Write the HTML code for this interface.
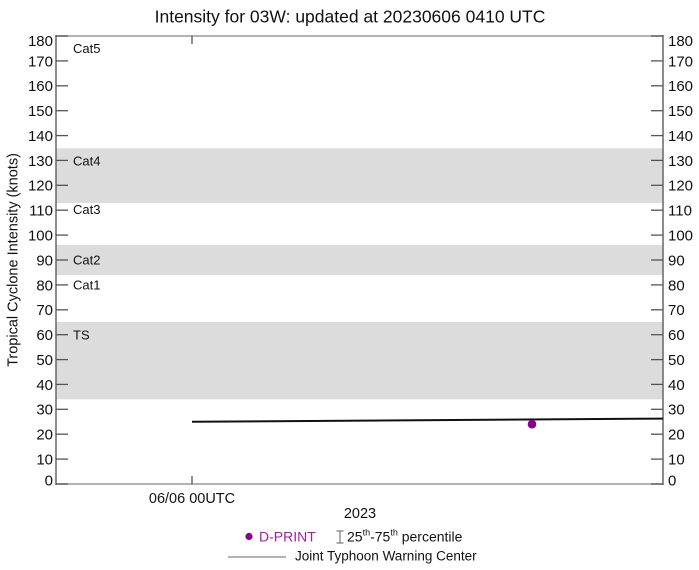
<!DOCTYPE html>
<html><head><meta charset="utf-8"><style>
html,body{margin:0;padding:0;background:#fff;}
svg{display:block;font-family:"Liberation Sans",Arial,sans-serif;}
</style></head><body>
<svg width="699" height="570" viewBox="0 0 699 570" xmlns="http://www.w3.org/2000/svg">
<rect width="699" height="570" fill="#fff"/>
<text x="350" y="22.5" font-size="17.5" text-anchor="middle" fill="#111">Intensity for 03W: updated at 20230606 0410 UTC</text>
<!-- bands -->
<rect x="56" y="148.3" width="607" height="54.7" fill="#dcdcdc"/>
<rect x="56" y="245" width="607" height="30" fill="#dcdcdc"/>
<rect x="56" y="322" width="607" height="77.3" fill="#dcdcdc"/>
<!-- frame -->
<line x1="56" y1="36" x2="663" y2="36" stroke="#999" stroke-width="1.5"/>
<line x1="56" y1="484" x2="663" y2="484" stroke="#999" stroke-width="1.5"/>
<line x1="56" y1="35" x2="56" y2="485" stroke="#666" stroke-width="1.5"/>
<line x1="663" y1="35" x2="663" y2="485" stroke="#666" stroke-width="1.5"/>
<!-- ticks -->
<g stroke="#555" stroke-width="1.3">
<line x1="56" y1="36" x2="68" y2="36"/><line x1="651" y1="36" x2="663" y2="36"/>
<line x1="56" y1="60.9" x2="68" y2="60.9"/><line x1="651" y1="60.9" x2="663" y2="60.9"/>
<line x1="56" y1="85.8" x2="68" y2="85.8"/><line x1="651" y1="85.8" x2="663" y2="85.8"/>
<line x1="56" y1="110.7" x2="68" y2="110.7"/><line x1="651" y1="110.7" x2="663" y2="110.7"/>
<line x1="56" y1="135.6" x2="68" y2="135.6"/><line x1="651" y1="135.6" x2="663" y2="135.6"/>
<line x1="56" y1="160.4" x2="68" y2="160.4"/><line x1="651" y1="160.4" x2="663" y2="160.4"/>
<line x1="56" y1="185.3" x2="68" y2="185.3"/><line x1="651" y1="185.3" x2="663" y2="185.3"/>
<line x1="56" y1="210.2" x2="68" y2="210.2"/><line x1="651" y1="210.2" x2="663" y2="210.2"/>
<line x1="56" y1="235.1" x2="68" y2="235.1"/><line x1="651" y1="235.1" x2="663" y2="235.1"/>
<line x1="56" y1="260" x2="68" y2="260"/><line x1="651" y1="260" x2="663" y2="260"/>
<line x1="56" y1="284.9" x2="68" y2="284.9"/><line x1="651" y1="284.9" x2="663" y2="284.9"/>
<line x1="56" y1="309.8" x2="68" y2="309.8"/><line x1="651" y1="309.8" x2="663" y2="309.8"/>
<line x1="56" y1="334.7" x2="68" y2="334.7"/><line x1="651" y1="334.7" x2="663" y2="334.7"/>
<line x1="56" y1="359.6" x2="68" y2="359.6"/><line x1="651" y1="359.6" x2="663" y2="359.6"/>
<line x1="56" y1="384.4" x2="68" y2="384.4"/><line x1="651" y1="384.4" x2="663" y2="384.4"/>
<line x1="56" y1="409.3" x2="68" y2="409.3"/><line x1="651" y1="409.3" x2="663" y2="409.3"/>
<line x1="56" y1="434.2" x2="68" y2="434.2"/><line x1="651" y1="434.2" x2="663" y2="434.2"/>
<line x1="56" y1="459.1" x2="68" y2="459.1"/><line x1="651" y1="459.1" x2="663" y2="459.1"/>
<line x1="56" y1="484" x2="68" y2="484"/><line x1="651" y1="484" x2="663" y2="484"/>
<line x1="192" y1="36" x2="192" y2="44"/><line x1="192" y1="476" x2="192" y2="484"/>
</g>
<!-- left labels -->
<g font-size="15" fill="#111" text-anchor="end">
<text x="53" y="46">180</text>
<text x="53" y="66.3">170</text>
<text x="53" y="91.2">160</text>
<text x="53" y="116.1">150</text>
<text x="53" y="141">140</text>
<text x="53" y="165.8">130</text>
<text x="53" y="190.7">120</text>
<text x="53" y="215.6">110</text>
<text x="53" y="240.5">100</text>
<text x="53" y="265.4">90</text>
<text x="53" y="290.3">80</text>
<text x="53" y="315.2">70</text>
<text x="53" y="340.1">60</text>
<text x="53" y="365">50</text>
<text x="53" y="389.8">40</text>
<text x="53" y="414.7">30</text>
<text x="53" y="439.6">20</text>
<text x="53" y="464.5">10</text>
<text x="53" y="485.5">0</text>
</g>
<g font-size="15" fill="#111" text-anchor="start">
<text x="668" y="46">180</text>
<text x="668" y="66.3">170</text>
<text x="668" y="91.2">160</text>
<text x="668" y="116.1">150</text>
<text x="668" y="141">140</text>
<text x="668" y="165.8">130</text>
<text x="668" y="190.7">120</text>
<text x="668" y="215.6">110</text>
<text x="668" y="240.5">100</text>
<text x="668" y="265.4">90</text>
<text x="668" y="290.3">80</text>
<text x="668" y="315.2">70</text>
<text x="668" y="340.1">60</text>
<text x="668" y="365">50</text>
<text x="668" y="389.8">40</text>
<text x="668" y="414.7">30</text>
<text x="668" y="439.6">20</text>
<text x="668" y="464.5">10</text>
<text x="668" y="485.5">0</text>
</g>
<!-- category labels -->
<g font-size="13" fill="#111">
<text x="73" y="53">Cat5</text>
<text x="73" y="165.3">Cat4</text>
<text x="73" y="213.8">Cat3</text>
<text x="73" y="264.6">Cat2</text>
<text x="73" y="289.5">Cat1</text>
<text x="73" y="339.3">TS</text>
</g>
<!-- y axis title -->
<text transform="translate(17.5,260) rotate(-90)" font-size="14.5" text-anchor="middle" fill="#111">Tropical Cyclone Intensity (knots)</text>
<!-- x labels -->
<text x="192" y="503" font-size="14.5" text-anchor="middle" fill="#111">06/06 00UTC</text>
<text x="360" y="518" font-size="14.5" text-anchor="middle" fill="#111">2023</text>
<!-- JTWC line -->
<line x1="192" y1="421.8" x2="663" y2="418.6" stroke="#111" stroke-width="2"/>
<!-- D-PRINT point -->
<line x1="532" y1="420.5" x2="532" y2="427.5" stroke="#8b008b" stroke-width="1.5"/>
<circle cx="532" cy="424.2" r="4.3" fill="#8b008b"/>
<!-- legend -->
<circle cx="249" cy="536.5" r="3.6" fill="#8b008b"/>
<text x="259" y="541.5" font-size="14" fill="#a020a0">D-PRINT</text>
<g stroke="#777" stroke-width="1.2">
<line x1="340" y1="531" x2="340" y2="543"/>
<line x1="336.5" y1="531" x2="343.5" y2="531"/>
<line x1="336.5" y1="543" x2="343.5" y2="543"/>
</g>
<text x="347" y="541.5" font-size="14" fill="#111">25<tspan font-size="9" dy="-6">th</tspan><tspan dy="6">-75</tspan><tspan font-size="9" dy="-6">th</tspan><tspan dy="6"> percentile</tspan></text>
<line x1="228" y1="557" x2="286" y2="557" stroke="#666" stroke-width="1"/>
<text x="295" y="560.5" font-size="13.5" fill="#111">Joint Typhoon Warning Center</text>
</svg>
</body></html>
